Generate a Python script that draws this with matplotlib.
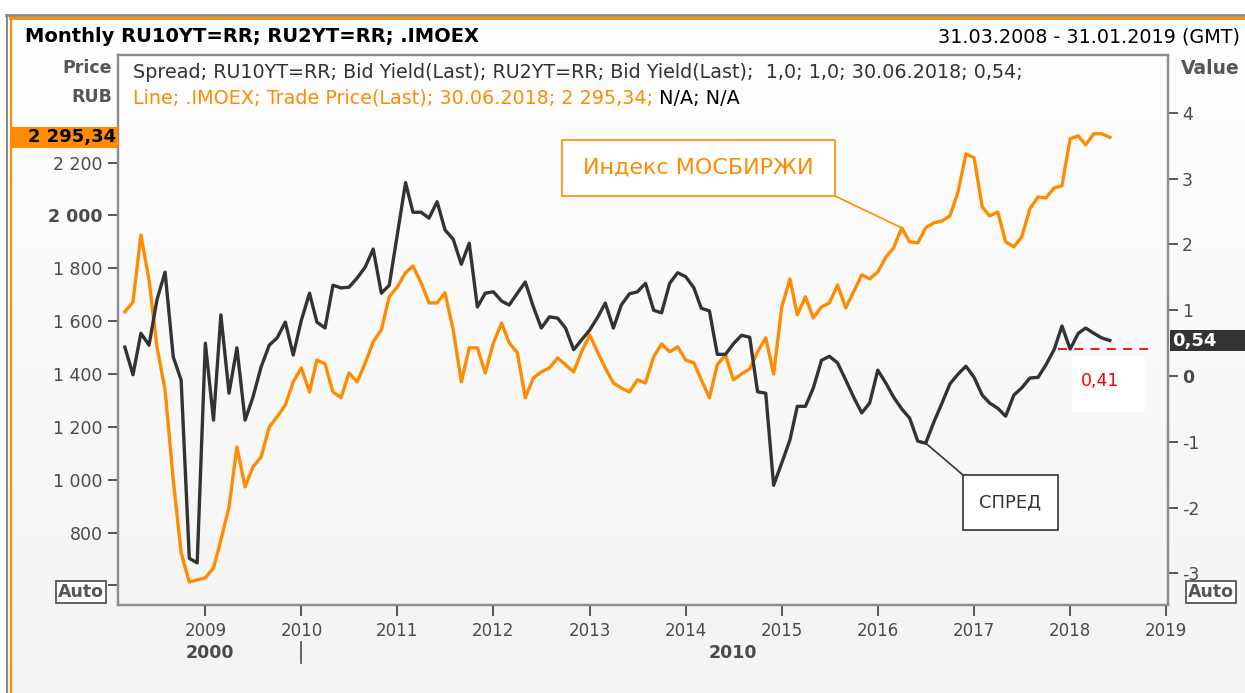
import numpy as np
import pandas as pd
import matplotlib
matplotlib.use("Agg")
import matplotlib.pyplot as plt
import matplotlib.dates as mdates
from matplotlib.patches import Rectangle, ConnectionPatch
from matplotlib.lines import Line2D
from matplotlib.transforms import blended_transform_factory

# ---------------- data ----------------
months = pd.date_range("2008-03-01", "2018-06-01", freq="MS")
imoex = [1635, 1673, 1926, 1756, 1503, 1340, 999, 723, 613, 621,
         629, 666, 772, 897, 1124, 973, 1049, 1086, 1200, 1238,
         1283, 1370, 1423, 1332, 1453, 1438, 1332, 1310, 1404, 1370,
         1442, 1522, 1567, 1692, 1730, 1783, 1809, 1745, 1669, 1669,
         1707, 1567, 1370, 1499, 1499, 1404, 1518, 1593, 1518, 1480,
         1310, 1385, 1408, 1423, 1461, 1435, 1408, 1484, 1548, 1480,
         1423, 1366, 1347, 1332, 1378, 1366, 1465, 1514, 1484, 1503,
         1453, 1442, 1378, 1310, 1435, 1472, 1378, 1400, 1419, 1484,
         1537, 1400, 1654, 1760, 1624, 1692, 1612, 1654, 1669, 1737,
         1650, 1711, 1775, 1760, 1786, 1843, 1877, 1953, 1900, 1896,
         1953, 1972, 1979, 1998, 2089, 2233, 2218, 2032, 1998, 2013,
         1900, 1881, 1919, 2025, 2070, 2066, 2104, 2112, 2290, 2301,
         2267, 2309, 2309, 2295.34]
spread = [0.44, 0.02, 0.65, 0.47, 1.16, 1.58, 0.29, -0.06, -2.77, -2.84,
          0.50, -0.67, 0.93, -0.26, 0.43, -0.67, -0.32, 0.14, 0.47, 0.58,
          0.82, 0.32, 0.85, 1.26, 0.82, 0.73, 1.38, 1.34, 1.35, 1.49,
          1.66, 1.93, 1.26, 1.38, 2.16, 2.94, 2.49, 2.49, 2.40, 2.65,
          2.22, 2.08, 1.70, 2.02, 1.05, 1.26, 1.28, 1.14, 1.08, 1.26,
          1.43, 1.05, 0.73, 0.90, 0.88, 0.73, 0.40, 0.55, 0.70, 0.90,
          1.11, 0.73, 1.08, 1.25, 1.28, 1.41, 1.00, 0.96, 1.41, 1.57,
          1.51, 1.34, 1.03, 0.99, 0.33, 0.33, 0.49, 0.62, 0.59, -0.24,
          -0.26, -1.66, -1.32, -0.97, -0.46, -0.46, -0.18, 0.24, 0.30, 0.20,
          -0.06, -0.32, -0.56, -0.41, 0.09, -0.11, -0.32, -0.50, -0.64, -0.99,
          -1.02, -0.70, -0.41, -0.12, 0.03, 0.15, -0.02, -0.29, -0.41, -0.49,
          -0.61, -0.29, -0.18, -0.03, -0.02, 0.17, 0.40, 0.76, 0.41, 0.65,
          0.73, 0.65, 0.58, 0.54]

left_ticks = [600, 800, 1000, 1200, 1400, 1600, 1800, 2000, 2200]
left_labels = ["", "800", "1 000", "1 200", "1 400", "1 600", "1 800", "2 000", "2 200"]
right_ticks = [-3, -2, -1, 0, 1, 2, 3, 4]
right_labels = ["-3", "-2", "-1", "0", "1", "2", "3", "4"]

ref_level = 0.41
ref_start, ref_end = "2017-11-15", "2018-10-25"
last_price_label = "2 295,34"
last_spread_label = "0,54"
imoex_note_idx = 97
spread_note_idx = 100

ORANGE = "#FF8C00"
DARK = "#333333"
GRAY = "#4a4a4a"

W, H = 1245, 693
def fx(p): return p / W
def fy(p): return 1 - p / H

plt.rcParams["font.family"] = ["DejaVu Sans"]
fig = plt.figure(figsize=(W / 100, H / 100), dpi=100)

# background gradient
bg = fig.add_axes([0, 0, 1, 1], zorder=-10)
grad = np.linspace(1.0, 0.955, 256).reshape(-1, 1)
bg.imshow(np.dstack([grad, grad, grad]), aspect="auto", extent=[0, 1, 0, 1])
bg.add_patch(Rectangle((0, fy(14)), 1, 1 - fy(14), color="white"))
bg.add_patch(Rectangle((0, 0), fx(6), 1, color="white"))
bg.set_xlim(0, 1); bg.set_ylim(0, 1); bg.axis("off")

# borders
fig.add_artist(Line2D([fx(6), 1], [fy(15), fy(15)], color="#8a8a8a", lw=2.0))
fig.add_artist(Line2D([fx(10), 1], [fy(17.5), fy(17.5)], color=ORANGE, lw=2.0))
fig.add_artist(Line2D([fx(7), fx(7)], [0, fy(15)], color="#8a8a8a", lw=1.5))
fig.add_artist(Line2D([fx(10.5), fx(10.5)], [0, fy(17.5)], color=ORANGE, lw=1.5))

# main axes
ax = fig.add_axes([fx(118), fy(605), (1168 - 118) / W, (605 - 55) / H])
ax.set_facecolor("none")
ax2 = ax.twinx()

ax.plot(months, imoex, color=ORANGE, lw=2.4, solid_joinstyle="round", zorder=3)
ax2.plot(months, spread, color=DARK, lw=2.4, solid_joinstyle="round", zorder=3)
ax2.plot(pd.to_datetime([ref_start, ref_end]), [ref_level, ref_level],
         color="red", lw=1.3, ls=(0, (5, 4)), zorder=4)

ax.set_xlim(pd.Timestamp("2008-02-04"), pd.Timestamp("2019-01-08"))
ax.set_ylim(526, 2607)
ax2.set_ylim(-3.48, 4.88)

for a in (ax, ax2):
    for s in a.spines.values():
        s.set_color("#8c8c8c"); s.set_linewidth(1.6)

ax.yaxis.set_major_locator(matplotlib.ticker.FixedLocator(left_ticks))
ax.set_yticklabels(left_labels)
ax.tick_params(axis="y", direction="out", length=7, width=1.3, color=GRAY,
               labelsize=12.5, labelcolor=GRAY, pad=4)
for t, lab in zip(ax.get_yticklabels(), left_labels):
    if lab == "2 000":
        t.set_fontweight("bold")

ax2.yaxis.set_major_locator(matplotlib.ticker.FixedLocator(right_ticks))
ax2.set_yticklabels(right_labels)
ax2.tick_params(axis="y", direction="out", length=7, width=1.3, color=GRAY,
                labelsize=12.5, labelcolor=GRAY, pad=3)
for t, lab in zip(ax2.get_yticklabels(), right_labels):
    if lab == "0":
        t.set_fontweight("bold")

ax.xaxis.set_major_locator(mdates.YearLocator())
ax.xaxis.set_major_formatter(mdates.DateFormatter("%Y"))
ax.tick_params(axis="x", direction="out", length=8, width=1.3, color=GRAY,
               labelsize=12, labelcolor=GRAY, pad=4)

# decade row
xb = blended_transform_factory(ax.transData, fig.transFigure)
fig.text(mdates.date2num(pd.Timestamp("2009-01-20")), fy(653), "2000", transform=xb,
         ha="center", va="center", fontsize=12.5, fontweight="bold", color=GRAY)
fig.text(mdates.date2num(pd.Timestamp("2014-07-01")), fy(653), "2010", transform=xb,
         ha="center", va="center", fontsize=12.5, fontweight="bold", color=GRAY)
d2010 = mdates.date2num(pd.Timestamp("2010-01-01"))
fig.add_artist(Line2D([d2010, d2010], [fy(642), fy(663)], transform=xb, color=GRAY, lw=1.2))

# header
fig.text(fx(25), fy(37), "Monthly RU10YT=RR; RU2YT=RR; .IMOEX", ha="left", va="center",
         fontsize=14, fontweight="bold", color="black")
fig.text(fx(1240), fy(37), "31.03.2008 - 31.01.2019 (GMT)", ha="right", va="center",
         fontsize=13.8, color="black")
fig.text(fx(112), fy(68), "Price", ha="right", va="center", fontsize=12.5,
         fontweight="bold", color="#555555")
fig.text(fx(112), fy(97), "RUB", ha="right", va="center", fontsize=12.5,
         fontweight="bold", color="#555555")
fig.text(fx(1240), fy(68), "Value", ha="right", va="center", fontsize=13.5,
         fontweight="bold", color="#555555")

# legend text
fig.text(fx(133), fy(72), "Spread; RU10YT=RR; Bid Yield(Last); RU2YT=RR; Bid Yield(Last);  1,0; 1,0; 30.06.2018; 0,54;",
         ha="left", va="center", fontsize=13.8, color=DARK)
t_or = fig.text(fx(133), fy(98), "Line; .IMOEX; Trade Price(Last); 30.06.2018; 2 295,34;",
                ha="left", va="center", fontsize=13.8, color=ORANGE)
ax.annotate(" N/A; N/A", xy=(1, 0), xycoords=t_or, ha="left", va="bottom",
            fontsize=13.8, color="black", annotation_clip=False)

# last value labels (boxes positioned from the data value)
py_price = ax.transData.transform((0, imoex[-1]))[1] / fig.dpi / fig.get_figheight()
fig.add_artist(Rectangle((fx(12), py_price - 10.5 / H), (118 - 12) / W, 21 / H,
                         transform=fig.transFigure, fc=ORANGE, ec="none"))
fig.text(fx(116), py_price, last_price_label, ha="right", va="center",
         fontsize=13, fontweight="bold", color="black")
py_spread = ax2.transData.transform((0, spread[-1]))[1] / fig.dpi / fig.get_figheight()
fig.add_artist(Rectangle((fx(1170), py_spread - 10.5 / H), (1245 - 1170) / W, 21 / H,
                         transform=fig.transFigure, fc=DARK, ec="none"))
fig.text(fx(1172), py_spread, last_spread_label, ha="left", va="center",
         fontsize=13, fontweight="bold", color="white")

# Auto boxes
for xc in (fx(81), fx(1211)):
    fig.text(xc, fy(592), "Auto", ha="center", va="center", fontsize=12.5,
             fontweight="bold", color="#555555",
             bbox=dict(boxstyle="square,pad=0.12", fc="white", ec="#555555", lw=1.3))

# annotation boxes
fig.add_artist(Rectangle((fx(562), fy(196)), (835 - 562) / W, (196 - 140) / H,
                         transform=fig.transFigure, fc="white", ec=ORANGE, lw=1.2, zorder=5))
fig.text(fx(698), fy(168), "Индекс МОСБИРЖИ", ha="center", va="center",
         fontsize=16, color=ORANGE, zorder=6)
con1 = ConnectionPatch(xyA=(fx(835), fy(196)), coordsA=fig.transFigure,
                       xyB=(mdates.date2num(months[imoex_note_idx]), imoex[imoex_note_idx]),
                       coordsB=ax.transData, color=ORANGE, lw=1.2, zorder=5)
fig.add_artist(con1)

fig.add_artist(Rectangle((fx(963), fy(530)), (1058 - 963) / W, (530 - 475) / H,
                         transform=fig.transFigure, fc="white", ec=DARK, lw=1.2, zorder=5))
fig.text(fx(1010.5), fy(502), "СПРЕД", ha="center", va="center",
         fontsize=13, color=DARK, zorder=6)
con2 = ConnectionPatch(xyA=(fx(963), fy(475)), coordsA=fig.transFigure,
                       xyB=(mdates.date2num(months[spread_note_idx]), spread[spread_note_idx]),
                       coordsB=ax2.transData, color=DARK, lw=1.2, zorder=5)
fig.add_artist(con2)

# red value label
fig.add_artist(Rectangle((fx(1072), fy(412)), (1145 - 1072) / W, (412 - 356) / H,
                         transform=fig.transFigure, fc="white", ec="none", zorder=2))
fig.text(fx(1100), fy(381), "0,41", ha="center", va="center", fontsize=12.5,
         color="red", zorder=6)

fig.savefig("out.png", dpi=100)
